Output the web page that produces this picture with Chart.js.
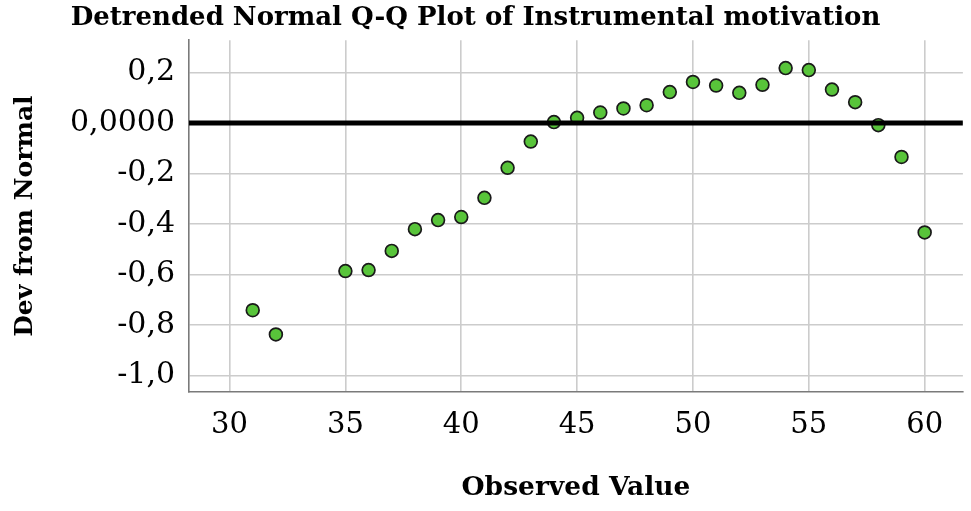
<!DOCTYPE html>
<html>
<head>
<meta charset="utf-8">
<script src="https://cdn.jsdelivr.net/npm/chart.js@4.4.1/dist/chart.umd.min.js"></script>
<style>
  html, body { margin: 0; padding: 0; background: #ffffff; }
  #wrap { width: 971px; height: 511px; }
</style>
</head>
<body>
<div id="wrap"><canvas id="qq" width="971" height="511"></canvas></div>
<script>
// Observed values and their deviation from the normal line
const observedValues = [31, 32, 35, 36, 37, 38, 39, 40, 41, 42, 43, 44, 45, 46,
                        47, 48, 49, 50, 51, 52, 53, 54, 55, 56, 57, 58, 59, 60];
const devFromNormal  = [-0.742, -0.838, -0.587, -0.583, -0.507, -0.421, -0.385, -0.373,
                        -0.297, -0.178, -0.074, 0.003, 0.020, 0.041, 0.057, 0.070,
                        0.122, 0.162, 0.148, 0.119, 0.151, 0.217, 0.209, 0.132,
                        0.082, -0.009, -0.135, -0.434];

// Axis ticks and labels
const xTicks = [30, 35, 40, 45, 50, 55, 60];
const yTicks = [-1.0, -0.8, -0.6, -0.4, -0.2, 0.0, 0.2];
const yTickLabels = ['-1,0', '-0,8', '-0,6', '-0,4', '-0,2', '0,0000', '0,2'];

// Axis ranges
const xRange = [28.25, 61.65];
const yRange = [-1.066, 0.3275];

// Horizontal zero-deviation reference
const refLine = [{ x: xRange[0], y: 0 }, { x: xRange[1], y: 0 }];

const points = observedValues.map((v, i) => ({ x: v, y: devFromNormal[i] }));

const serif = "'DejaVu Serif', 'Liberation Serif', serif";

// Nudge the title's box so its text sits a little left of the canvas centre
const titleShift = {
  id: 'titleShift',
  afterLayout(chart) {
    const tb = chart.titleBlock;
    if (tb) { tb.right -= 16; }
  }
};

new Chart(document.getElementById('qq'), {
  type: 'scatter',
  data: {
    datasets: [
      {
        type: 'line',
        data: refLine,
        borderColor: '#000000',
        borderWidth: 5,
        pointRadius: 0,
        fill: false,
        order: 0
      },
      {
        data: points,
        backgroundColor: '#58c43a',
        borderColor: '#1a1a1a',
        borderWidth: 1.7,
        pointRadius: 6.4,
        pointHoverRadius: 6.4,
        order: 1
      }
    ]
  },
  options: {
    responsive: false,
    animation: false,
    devicePixelRatio: 1,
    layout: { padding: { left: 0, right: 4, top: 0, bottom: 0 } },
    plugins: {
      legend: { display: false },
      tooltip: { enabled: false },
      title: {
        display: true,
        text: 'Detrended Normal Q-Q Plot of Instrumental motivation',
        color: '#000000',
        font: { family: serif, size: 26, weight: 'bold', lineHeight: 1.2 },
        padding: { top: 3, bottom: 6 }
      }
    },
    scales: {
      x: {
        type: 'linear',
        min: xRange[0],
        max: xRange[1],
        afterBuildTicks: (s) => { s.ticks = xTicks.map(v => ({ value: v })); },
        afterFit: (s) => { s.height = 119; },
        ticks: {
          color: '#000000',
          padding: 16,
          maxRotation: 0,
          font: { family: serif, size: 29 },
          callback: (v) => String(v)
        },
        grid: { color: '#cccccc', lineWidth: 1.6, drawTicks: false },
        border: { display: true, color: '#7a7a7a', width: 1.6 },
        title: {
          display: true,
          text: 'Observed Value',
          color: '#000000',
          font: { family: serif, size: 26.5, weight: 'bold', lineHeight: 1.2 },
          padding: { top: 0, bottom: 7 }
        }
      },
      y: {
        type: 'linear',
        min: yRange[0],
        max: yRange[1],
        afterBuildTicks: (s) => { s.ticks = yTicks.map(v => ({ value: v })); },
        afterFit: (s) => { s.width = 189; },
        ticks: {
          color: '#000000',
          padding: 14,
          font: { family: serif, size: 30 },
          callback: (v) => {
            const i = yTicks.findIndex(t => Math.abs(t - v) < 1e-9);
            return i >= 0 ? yTickLabels[i] : '';
          }
        },
        grid: { color: '#cccccc', lineWidth: 1.6, drawTicks: false },
        border: { display: true, color: '#7a7a7a', width: 1.6 },
        title: {
          display: true,
          text: 'Dev from Normal',
          color: '#000000',
          font: { family: serif, size: 25, weight: 'bold', lineHeight: 1.2 },
          padding: { top: 10, bottom: 0 }
        }
      }
    }
  },
  plugins: [titleShift]
});
</script>
</body>
</html>
